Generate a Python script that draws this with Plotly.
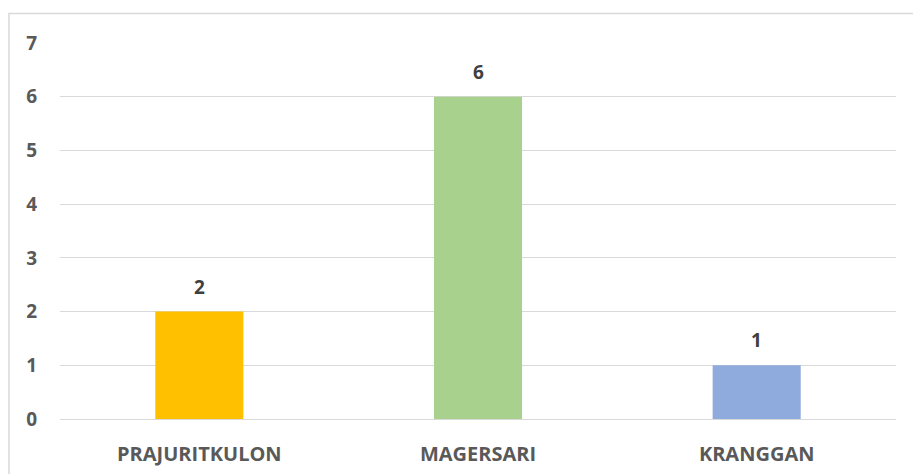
import plotly.graph_objects as go

categories = ["PRAJURITKULON", "MAGERSARI", "KRANGGAN"]
values = [2, 6, 1]
bar_colors = ["#FFC000", "#A9D18E", "#8FAADC"]
y_ticks = [0, 1, 2, 3, 4, 5, 6, 7]

W, H = 913, 474
L, R, T, B = 60, 896, 43, 419
FONT = "Open Sans"

fig = go.Figure(go.Bar(
    x=categories, y=values,
    marker=dict(color=bar_colors, line=dict(width=0)),
    cliponaxis=False, hoverinfo="skip",
))

for c, v in zip(categories, values):
    fig.add_annotation(x=c, y=v, text=str(v), showarrow=False,
                       yanchor="middle", yshift=25,
                       font=dict(family=FONT, size=19, color="#404040", weight="bold"))

pw, ph = R - L, B - T
fig.add_shape(type="rect", xref="paper", yref="paper",
              x0=(9 - L) / pw, x1=(W + 20 - L) / pw,
              y0=(B - (H + 20)) / ph, y1=(B - 13.5) / ph,
              line=dict(color="#d9d9d9", width=1.5), fillcolor="rgba(0,0,0,0)", layer="below")

fig.update_layout(
    width=W, height=H,
    margin=dict(l=L, r=W - R, t=T, b=H - B, pad=0, autoexpand=False),
    plot_bgcolor="white", paper_bgcolor="white",
    bargap=0.684, showlegend=False,
    font=dict(family=FONT, size=19, color="#595959"),
    xaxis=dict(showgrid=False, showline=False, ticks="", ticklabelstandoff=21, automargin=False,
               tickfont=dict(family=FONT, size=20, color="#595959", weight="bold")),
    yaxis=dict(range=[0, 7], tickvals=y_ticks, showgrid=True, gridcolor="#d9d9d9", gridwidth=1,
               zeroline=True, zerolinecolor="#d9d9d9", zerolinewidth=1, showline=False,
               ticks="", ticklabelstandoff=22, automargin=False,
               tickfont=dict(family=FONT, size=19, color="#595959", weight="bold")),
)

fig.write_html("out.html", config={"displayModeBar": False},
               post_script="document.body.style.margin='0';document.body.style.overflow='hidden';")
